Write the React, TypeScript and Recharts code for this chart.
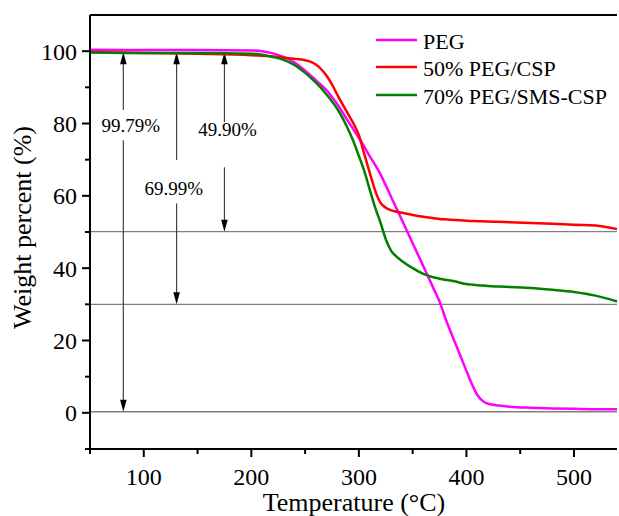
import React from 'react';
import { LineChart, Line, XAxis, YAxis, ReferenceLine, ReferenceDot, Legend } from 'recharts';

const FONT = "'Liberation Serif', 'Times New Roman', serif";

// Temperature (°C)
const temperatures = [50, 100, 150, 200, 210, 220, 230, 240, 250, 255, 260, 265, 270, 275, 280, 290, 295, 300, 305, 310, 315, 320, 325, 330, 335, 340, 350, 360, 370, 375, 380, 390, 400, 405, 410, 415, 420, 430, 440, 460, 480, 500, 520, 540];
// Weight percent (%)
const pegValues = [100.4, 100.3, 100.3, 100.2, 100.0, 99.4, 98.4, 96.9, 94.6, 93.3, 92.0, 90.6, 89.2, 87.3, 85.3, 80.6, 78.3, 76.0, 73.6, 71.0, 68.6, 66.0, 62.9, 59.7, 56.5, 53.3, 46.9, 40.5, 34.0, 30.8, 26.5, 19.0, 11.6, 8.0, 5.0, 3.3, 2.5, 2.0, 1.7, 1.4, 1.2, 1.1, 1.0, 1.0];
const csp50Values = [99.8, 99.5, 99.3, 98.9, 98.7, 98.5, 98.2, 97.9, 97.5, 97.1, 96.3, 95.0, 93.2, 90.8, 87.9, 82.6, 80.0, 76.8, 71.6, 66.5, 61.6, 58.1, 56.7, 56.0, 55.6, 55.3, 54.7, 54.2, 53.8, 53.6, 53.5, 53.3, 53.1, 53.05, 53.0, 52.95, 52.9, 52.8, 52.7, 52.5, 52.3, 52.0, 51.8, 50.8];
const sms70Values = [99.6, 99.5, 99.5, 99.3, 99.0, 98.4, 97.6, 96.2, 94.0, 92.7, 91.3, 89.8, 88.0, 86.1, 84.0, 78.4, 75.0, 71.0, 66.9, 61.8, 56.9, 52.7, 48.0, 44.8, 43.2, 42.0, 40.0, 38.4, 37.4, 37.1, 36.8, 36.3, 35.6, 35.45, 35.3, 35.2, 35.1, 34.9, 34.8, 34.5, 34.0, 33.4, 32.4, 30.8];

const seriesNames = ['PEG', '50% PEG/CSP', '70% PEG/SMS-CSP'];
const seriesKeys = ['peg', 'csp50', 'sms70'];
const seriesColors = ['#FF00FF', '#FF0000', '#008000'];

const xTicks = [50, 100, 150, 200, 250, 300, 350, 400, 450, 500];
const xLabeledTicks = [100, 200, 300, 400, 500];
const yTicks = [-10, 0, 10, 20, 30, 40, 50, 60, 70, 80, 90, 100];
const yLabeledTicks = [0, 20, 40, 60, 80, 100];

// residual levels (horizontal guide lines)
const residualLevels = [50.1, 30.0, 0.3];

// weight-loss annotations (data coordinates)
const lossX = [81, 130.5, 175];
const lossTop = [99.7, 99.7, 99.7];
const lossGapTop = [83.7, 69.9, 80.4];
const lossGapBottom = [75.4, 57.9, 67.9];
const lossBottom = [0.3, 30.0, 50.1];
const lossLabels = ['99.79%', '69.99%', '49.90%'];
const lossLabelX = [87.9, 127.9, 177.8];
const lossLabelY = [79.5, 62.0, 78.3];

const data = temperatures.map((t, i) => ({
  t,
  peg: pegValues[i],
  csp50: csp50Values[i],
  sms70: sms70Values[i],
}));

const TICK_SIZE = 8;
const X_TICK_MARGIN = 11;
const Y_TICK_MARGIN = 5;

const XTick = (props: any) => {
  const { x, y, payload } = props;
  const v = payload.value;
  const axisY = y - TICK_SIZE - X_TICK_MARGIN;
  const major = xLabeledTicks.includes(v);
  return (
    <g>
      <line x1={x} y1={axisY} x2={x} y2={axisY + (major ? 8 : 5)} stroke="#000" strokeWidth={2} />
      {major && (
        <text x={x} y={y} dy="0.71em" textAnchor="middle" fontFamily={FONT} fontSize={24} fill="#000">
          {v}
        </text>
      )}
    </g>
  );
};

const YTick = (props: any) => {
  const { x, y, payload } = props;
  const v = payload.value;
  const axisX = x + TICK_SIZE + Y_TICK_MARGIN;
  const major = yLabeledTicks.includes(v);
  return (
    <g>
      <line x1={axisX} y1={y} x2={axisX - (major ? 8 : 5)} y2={y} stroke="#000" strokeWidth={2} />
      {major && (
        <text x={x} y={y} dy="0.355em" textAnchor="end" fontFamily={FONT} fontSize={24} fill="#000">
          {v}
        </text>
      )}
    </g>
  );
};

const arrowShape = (p: any) => {
  const { x1, y1, x2, y2 } = p;
  const dir = y2 < y1 ? -1 : 1;
  const L = 12;
  const H = 3.3;
  return (
    <g>
      <line x1={x1} y1={y1} x2={x2} y2={y2 - dir * L * 0.7} stroke="#404040" strokeWidth={1.2} />
      <polygon points={`${x2},${y2} ${x2 - H},${y2 - dir * L} ${x2 + H},${y2 - dir * L}`} fill="#000" />
    </g>
  );
};

const LegendContent = () => (
  <div style={{ fontFamily: FONT, fontSize: 22, color: '#000' }}>
    {seriesNames.map((name, i) => (
      <div key={name} style={{ display: 'flex', alignItems: 'center', height: 27.5, whiteSpace: 'nowrap' }}>
        <svg width={41} height={4} style={{ display: 'block' }}>
          <line x1={0} y1={2} x2={41} y2={2} stroke={seriesColors[i]} strokeWidth={2.5} />
        </svg>
        <span style={{ marginLeft: 6, lineHeight: '22px', position: 'relative', top: 2 }}>{name}</span>
      </div>
    ))}
  </div>
);

export default function App() {
  return (
    <div style={{ position: 'absolute', left: 0, top: 0, width: 619, height: 516, background: '#fff' }}>
      <LineChart width={619} height={516} data={data} margin={{ top: 15, right: 2, bottom: 0, left: 0 }}>
        <XAxis
          dataKey="t"
          type="number"
          domain={[50, 540]}
          ticks={xTicks}
          interval={0}
          height={67}
          tickSize={TICK_SIZE}
          tickMargin={X_TICK_MARGIN}
          tickLine={false}
          axisLine={{ stroke: '#000', strokeWidth: 2 }}
          tick={XTick}
          label={{
            content: () => (
              <text x={354} y={502} textAnchor="middle" dominantBaseline="central" fontFamily={FONT} fontSize={26} fill="#000">
                Temperature (°C)
              </text>
            ),
          }}
        />
        <YAxis
          type="number"
          domain={[-10, 110]}
          ticks={yTicks}
          interval={0}
          width={90}
          tickSize={TICK_SIZE}
          tickMargin={Y_TICK_MARGIN}
          tickLine={false}
          axisLine={{ stroke: '#000', strokeWidth: 2 }}
          tick={YTick}
          label={{
            content: () => (
              <text
                x={22.5}
                y={227.5}
                transform="rotate(-90, 22.5, 227.5)"
                textAnchor="middle"
                dominantBaseline="central"
                fontFamily={FONT}
                fontSize={26}
                fill="#000"
              >
                Weight percent (%)
              </text>
            ),
          }}
        />
        <ReferenceLine y={110} stroke="#000" strokeWidth={2} />
        {residualLevels.map((lv) => (
          <ReferenceLine key={`lv${lv}`} y={lv} stroke="#7f7f7f" strokeWidth={1.4} />
        ))}
        {lossX.map((x, i) => (
          <ReferenceLine
            key={`up${i}`}
            segment={[{ x, y: lossGapTop[i] }, { x, y: lossTop[i] }]}
            shape={arrowShape}
          />
        ))}
        {lossX.map((x, i) => (
          <ReferenceLine
            key={`dn${i}`}
            segment={[{ x, y: lossGapBottom[i] }, { x, y: lossBottom[i] }]}
            shape={arrowShape}
          />
        ))}
        {lossLabels.map((lab, i) => (
          <ReferenceDot
            key={`lab${i}`}
            x={lossLabelX[i]}
            y={lossLabelY[i]}
            r={0}
            shape={(p: any) => (
              <text x={p.cx} y={p.cy} textAnchor="middle" dominantBaseline="central" fontFamily={FONT} fontSize={19} fill="#000">
                {lab}
              </text>
            )}
          />
        ))}
        {seriesKeys.map((k, i) => (
          <Line
            key={k}
            dataKey={k}
            name={seriesNames[i]}
            type="monotone"
            stroke={seriesColors[i]}
            strokeWidth={2.5}
            dot={false}
            activeDot={false}
            isAnimationActive={false}
          />
        ))}
        <Legend
          layout="vertical"
          align="center"
          verticalAlign="middle"
          content={LegendContent}
          wrapperStyle={{ position: 'absolute', top: 26, left: 376, width: 'auto', height: 'auto' }}
        />
      </LineChart>
    </div>
  );
}
